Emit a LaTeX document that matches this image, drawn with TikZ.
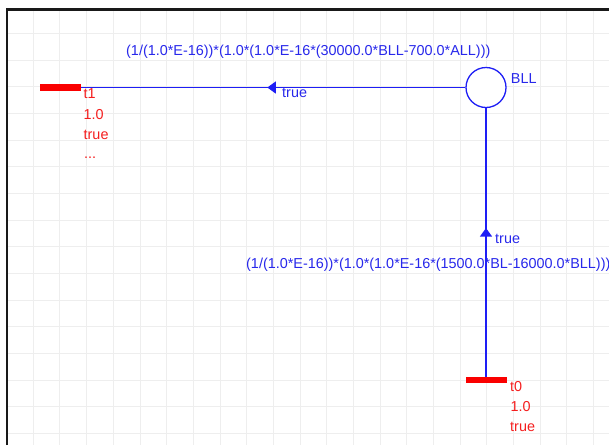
\documentclass[tikz,border=0pt]{standalone}
\usepackage{fontspec}
\setmainfont{Liberation Sans}
\usetikzlibrary{arrows.meta,decorations.markings}
\definecolor{netblue}{RGB}{30,30,245}
\definecolor{txtblue}{RGB}{40,40,235}
\definecolor{netred}{RGB}{250,0,0}
\definecolor{txtred}{RGB}{245,30,30}
\definecolor{gridgray}{RGB}{238,238,238}
\definecolor{framegray}{RGB}{25,25,25}
\tikzset{
  tbar/.style={rectangle,fill=netred,draw=none,minimum width=41pt,minimum height=6.5pt,inner sep=0pt},
  place/.style={circle,draw=netblue,line width=1.3pt,fill=white,minimum size=40pt,inner sep=0pt},
  arc/.style={draw=netblue,line width=1.3pt},
  lbl/.style={inner sep=0pt,anchor=base west,font=\fontsize{14.4}{17}\selectfont},
  bluelbl/.style={lbl,text=txtblue},
  redlbl/.style={lbl,text=txtred},
  midarrow/.style={postaction={decorate},decoration={markings,mark=at position #1 with {\arrow{Triangle[length=8.5pt,width=12pt]}}}}
}
\begin{document}
\begin{tikzpicture}[x=1pt,y=-1pt]
\useasboundingbox (0,0) rectangle (609,445);
\fill[white] (0,0) rectangle (609,445);
% grid
\foreach \i in {0,...,21} {
  \draw[gridgray,line width=1pt] ({33.33+26.667*\i},9) -- ({33.33+26.667*\i},445);
}
\foreach \j in {0,...,15} {
  \draw[gridgray,line width=1pt] (7,{33.33+26.667*\j}) -- (609,{33.33+26.667*\j});
}
% frame
\draw[framegray,line width=2.3pt] (7,445) -- (7,9.5) -- (609,9.5);

% nodes
\node[tbar] (t1) at (60.5,87.5) {};
\node[place] (bll) at (486,87.5) {};
\node[tbar] (t0) at (486,380) {};

% arcs
\path[arc,midarrow=198pt] (bll.west) -- (t1.east);
\path[arc,midarrow=148.5pt] (t0.north) -- (bll.south);

% arc labels
\node[bluelbl] (lt1) at (282,97) {true};
\node[bluelbl] (lt0) at (495,243) {true};
\node[bluelbl] (f1) at (126,55) {(1/(1.0*E-16))*(1.0*(1.0*E-16*(30000.0*BLL-700.0*ALL)))};
\node[bluelbl] (f0) at (246,268) {(1/(1.0*E-16))*(1.0*(1.0*E-16*(1500.0*BL-16000.0*BLL)))};

% place label
\node[bluelbl] (bllname) at (510.7,83.3) {BLL};

% transition labels
\node[redlbl] (t1name) at (83.5,98) {t1};
\node[redlbl] (t1rate) at (83.5,119) {1.0};
\node[redlbl] (t1guard) at (83.5,139) {true};
\node[redlbl] (t1more) at (84,158) {...};
\node[redlbl] (t0name) at (510,391.7) {t0};
\node[redlbl] (t0rate) at (510.5,411.7) {1.0};
\node[redlbl] (t0guard) at (510,431.7) {true};
\end{tikzpicture}
\end{document}
